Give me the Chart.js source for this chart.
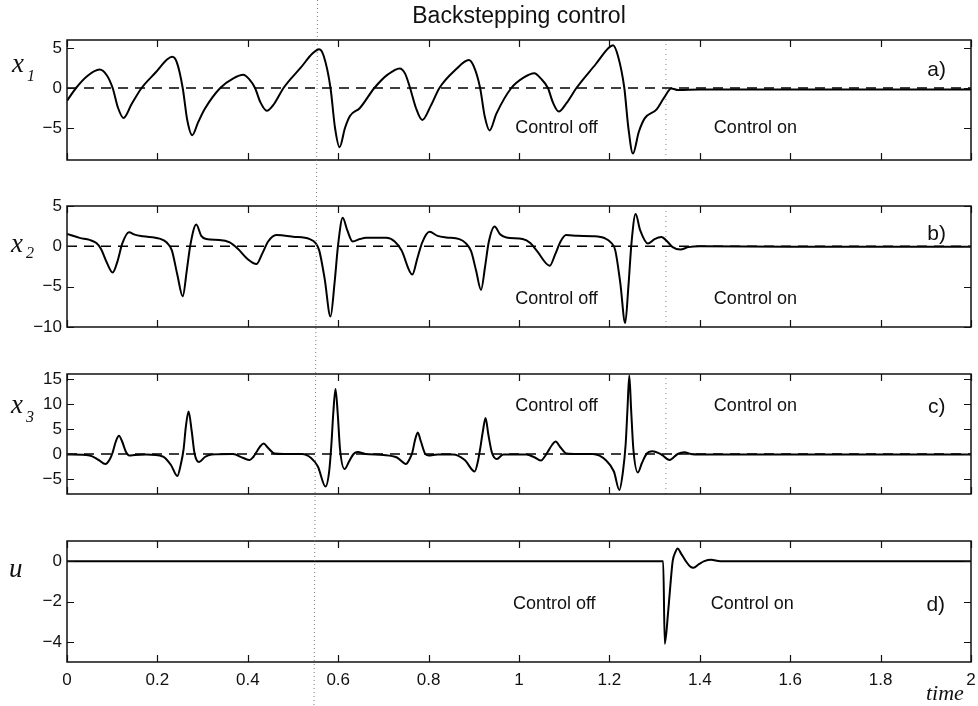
<!DOCTYPE html>
<html>
<head>
<meta charset="utf-8">
<title>Backstepping control</title>
<script src="https://cdn.jsdelivr.net/npm/chart.js@4.4.1/dist/chart.umd.min.js"></script>
<style>
  html, body { margin: 0; padding: 0; background: #fff; }
  #wrap { position: relative; width: 978px; height: 706px; background: #fff; }
  #wrap canvas { position: absolute; left: 0; top: 0; }
</style>
</head>
<body>
<div id="wrap">
  <canvas id="panel-a" width="978" height="706"></canvas>
  <canvas id="panel-b" width="978" height="706"></canvas>
  <canvas id="panel-c" width="978" height="706"></canvas>
  <canvas id="panel-d" width="978" height="706"></canvas>
</div>
<script>
// time axis
const xTicks = [0, 0.2, 0.4, 0.6, 0.8, 1, 1.2, 1.4, 1.6, 1.8, 2];
const controlOnTime = 1.325;   // dotted line where the controller is switched on
const scanLineTime = 0.552;    // faint dotted line crossing the whole figure

// a) x1
const tA = [0, 0.02, 0.045, 0.072, 0.088, 0.101, 0.113, 0.125, 0.143, 0.165, 0.197, 0.222, 0.233, 0.243,
  0.256, 0.266, 0.277, 0.29, 0.305, 0.339, 0.368, 0.39, 0.403, 0.416, 0.428, 0.442, 0.458, 0.479,
  0.518, 0.543, 0.558, 0.568, 0.583, 0.593, 0.603, 0.615, 0.626, 0.648, 0.68, 0.71, 0.736, 0.748,
  0.759, 0.772, 0.786, 0.805, 0.824, 0.86, 0.889, 0.9, 0.914, 0.924, 0.935, 0.95, 0.983, 1.01,
  1.034, 1.048, 1.064, 1.075, 1.088, 1.105, 1.127, 1.17, 1.198, 1.208, 1.219, 1.233, 1.242, 1.252,
  1.265, 1.278, 1.304, 1.32, 1.337, 1.352, 1.4, 1.6, 1.8, 2];
const x1 = [-1.6, 0, 1.5, 2.3, 1.6, 0, -2.5, -3.75, -2.0, 0, 2.0, 3.6, 3.9, 3.2,
  0, -4.0, -5.9, -4.3, -2.6, 0, 1.2, 1.65, 1.1, 0, -1.8, -2.85, -2.0, 0,
  2.6, 4.3, 4.85, 4.0, 0, -5.0, -7.4, -5.0, -3.5, -2.5, 0, 1.7, 2.45, 1.8,
  0, -2.5, -4.0, -2.2, 0, 2.3, 3.5, 2.7, 0, -3.5, -5.3, -3.2, 0, 1.3,
  1.85, 1.2, 0, -1.8, -2.95, -1.9, 0, 3.0, 5.0, 5.35, 4.0, 0, -5.0, -8.2,
  -5.5, -3.8, -2.7, -1.3, -0.05, -0.25, -0.2, -0.2, -0.2, -0.2];
const yTicksA = [-5, 0, 5];

// b) x2
const tB = [0, 0.028, 0.05, 0.065, 0.075, 0.088, 0.101, 0.112, 0.122, 0.137, 0.15, 0.168, 0.205, 0.22,
  0.232, 0.244, 0.256, 0.265, 0.273, 0.286, 0.297, 0.308, 0.337, 0.36, 0.378, 0.4, 0.419, 0.432,
  0.445, 0.463, 0.5, 0.537, 0.55, 0.558, 0.57, 0.583, 0.592, 0.6, 0.61, 0.62, 0.632, 0.648,
  0.662, 0.706, 0.725, 0.74, 0.764, 0.775, 0.786, 0.802, 0.82, 0.839, 0.868, 0.882, 0.894, 0.905,
  0.916, 0.925, 0.933, 0.946, 0.958, 0.972, 1.008, 1.025, 1.04, 1.068, 1.08, 1.092, 1.104, 1.13,
  1.163, 1.19, 1.203, 1.213, 1.224, 1.235, 1.242, 1.249, 1.258, 1.268, 1.285, 1.3, 1.315, 1.328,
  1.34, 1.357, 1.375, 1.4, 1.6, 1.8, 2];
const x2 = [1.55, 1.05, 0.8, 0.4, -0.3, -2.0, -3.25, -1.8, 0.3, 1.75, 1.45, 1.25, 0.95, 0.5,
  -0.5, -3.5, -6.2, -3.0, 0.2, 2.7, 1.3, 0.9, 0.8, 0.5, -0.3, -1.6, -2.2, -0.9,
  0.6, 1.4, 1.2, 0.9, 0.4, -0.5, -4.0, -8.7, -4.5, 0.3, 3.55, 2.0, 0.6, 0.9,
  1.05, 1.05, 0.6, -0.5, -3.5, -1.5, 0.5, 1.8, 1.3, 1.1, 0.9, 0.4, -0.6, -3.0,
  -5.4, -2.5, 0.5, 2.45, 1.5, 1.1, 0.9, 0.4, -0.6, -2.4, -1.0, 0.6, 1.4, 1.3,
  1.25, 1.0, 0.5, -0.5, -4.5, -9.5, -5.0, 0.5, 4.0, 2.0, 0.35, 0.9, 1.15, 0.6,
  -0.1, -0.4, -0.1, 0, -0.05, -0.05, -0.05];
const yTicksB = [-10, -5, 0, 5];

// c) x3
const tC = [0, 0.05, 0.07, 0.085, 0.095, 0.101, 0.108, 0.115, 0.122, 0.13, 0.138, 0.15, 0.175, 0.212,
  0.23, 0.244, 0.252, 0.258, 0.263, 0.269, 0.276, 0.282, 0.292, 0.305, 0.32, 0.367, 0.39, 0.404,
  0.412, 0.42, 0.428, 0.435, 0.445, 0.459, 0.48, 0.52, 0.54, 0.555, 0.572, 0.58, 0.585, 0.589,
  0.594, 0.599, 0.604, 0.614, 0.624, 0.634, 0.643, 0.66, 0.7, 0.73, 0.75, 0.758, 0.764, 0.77,
  0.776, 0.783, 0.792, 0.8, 0.82, 0.854, 0.88, 0.902, 0.909, 0.914, 0.92, 0.926, 0.932, 0.94,
  0.951, 0.965, 1.016, 1.035, 1.049, 1.057, 1.064, 1.073, 1.081, 1.092, 1.105, 1.13, 1.163, 1.193,
  1.21, 1.222, 1.23, 1.236, 1.24, 1.244, 1.248, 1.253, 1.263, 1.272, 1.282, 1.295, 1.315, 1.333,
  1.351, 1.366, 1.38, 1.4, 1.6, 1.8, 2];
const x3 = [-0.1, -0.3, -1.2, -2.0, -1.0, 0.3, 2.5, 3.65, 2.5, 0.5, -0.3, -0.2, -0.1, -0.5,
  -2.2, -4.4, -2.0, 1.0, 5.5, 8.5, 4.5, 0.2, -1.6, -0.6, -0.1, 0, -0.8, -1.2,
  -0.6, 0.5, 1.6, 2.1, 1.2, 0.1, 0, 0, -0.8, -2.5, -6.5, -3.5, 2.0, 8.0,
  13.0, 8.0, 1.0, -3.0, -1.5, 0, 0.4, 0, -0.2, -0.7, -2.0, -1.0, 0.3, 2.8,
  4.3, 2.5, 0.1, -0.3, -0.1, -0.1, -1.2, -3.5, -1.5, 1.0, 4.5, 7.2, 4.0, 0.3,
  -1.0, -0.1, -0.1, -0.7, -1.3, -0.5, 0.5, 1.8, 2.5, 1.3, 0.1, 0, 0, -1.3,
  -3.5, -7.2, -3.5, 2.0, 9.0, 15.7, 9.0, 1.0, -3.7, -1.8, 0, 0.55, -0.1, -1.2,
  0, 0.35, 0, -0.1, -0.1, -0.1, -0.1];
const yTicksC = [-5, 0, 5, 10, 15];

// d) u
const tU = [0, 0.5, 1.0, 1.319, 1.3225, 1.33, 1.336, 1.34, 1.346, 1.351, 1.358, 1.369, 1.378, 1.386,
  1.398, 1.41, 1.425, 1.445, 1.6, 1.8, 2];
const u = [0, 0, 0, 0, -4.1, -2.5, -0.9, 0, 0.45, 0.63, 0.4, 0, -0.25, -0.33,
  -0.15, 0, 0.07, 0, 0, 0, 0];
const yTicksD = [-4, -2, 0];

const sansFont = 'Arial, "Liberation Sans", Helvetica, sans-serif';
const serifFont = '"Times New Roman", "Liberation Serif", serif';
const ink = "#111";

// frame, inward ticks and text notes drawn on top of each panel
const decorPlugin = {
  id: "decor",
  afterDraw(chart, args, opts) {
    const ctx = chart.ctx;
    const { left, right, top, bottom } = chart.chartArea;
    const xs = chart.scales.x;
    const ys = chart.scales.y;
    ctx.save();

    ctx.strokeStyle = ink;
    ctx.lineWidth = 1.5;
    ctx.strokeRect(left, top, right - left, bottom - top);

    ctx.lineWidth = 1.2;
    ctx.beginPath();
    xTicks.forEach(v => {
      const px = Math.round(xs.getPixelForValue(v)) + 0.5;
      ctx.moveTo(px, top); ctx.lineTo(px, top + 7);
      ctx.moveTo(px, bottom); ctx.lineTo(px, bottom - 7);
    });
    opts.yTicks.forEach(v => {
      const py = Math.round(ys.getPixelForValue(v)) + 0.5;
      ctx.moveTo(left, py); ctx.lineTo(left + 7, py);
      ctx.moveTo(right, py); ctx.lineTo(right - 7, py);
    });
    ctx.stroke();

    // notes placed in data coordinates
    ctx.fillStyle = ink;
    ctx.textAlign = "center";
    ctx.textBaseline = "middle";
    (opts.notes || []).forEach(n => {
      ctx.font = n.size + "px " + sansFont;
      ctx.fillText(n.text, xs.getPixelForValue(n.x), ys.getPixelForValue(n.y));
    });

    // y label like x with subscript
    const yl = opts.ylabel;
    ctx.textAlign = "left";
    ctx.textBaseline = "alphabetic";
    ctx.font = "italic 27px " + serifFont;
    ctx.fillText(yl.main, yl.x, yl.y);
    if (yl.sub) {
      ctx.font = "italic 16px " + serifFont;
      ctx.fillText(yl.sub, yl.x + 15, yl.y + yl.subDy);
    }

    if (opts.bottomPanel) {
      ctx.font = "italic 22px " + serifFont;
      ctx.fillText("time", 926, 700);

      // faint scan line across the whole figure
      const sx = xs.getPixelForValue(scanLineTime);
      ctx.strokeStyle = "#777";
      ctx.lineWidth = 1;
      ctx.setLineDash([1, 3]);
      ctx.beginPath();
      ctx.moveTo(sx + 1, 0);
      ctx.lineTo(sx - 2.5, 706);
      ctx.stroke();
    }
    ctx.restore();
  }
};

function makePanel(id, t, vals, p) {
  const datasets = [{
    data: t.map((tt, i) => ({ x: tt, y: vals[i] })),
    borderColor: "#000",
    borderWidth: 2,
    pointRadius: 0,
    cubicInterpolationMode: "monotone"
  }];
  if (p.zeroLine) {
    datasets.push({
      data: [{ x: 0, y: 0 }, { x: 2, y: 0 }],
      borderColor: "#000", borderWidth: 1.5, borderDash: [10, 7], pointRadius: 0
    });
  }
  if (p.switchLine) {
    datasets.push({
      data: [{ x: controlOnTime, y: p.yMin }, { x: controlOnTime, y: p.yMax }],
      borderColor: "#888", borderWidth: 1, borderDash: [1, 4], pointRadius: 0
    });
  }

  return new Chart(document.getElementById(id), {
    type: "line",
    data: { datasets },
    plugins: [decorPlugin],
    options: {
      responsive: false,
      animation: false,
      devicePixelRatio: 1,
      layout: { padding: { left: 0, right: 7, top: p.top, bottom: p.bottom } },
      scales: {
        x: {
          type: "linear", min: 0, max: 2,
          display: !!p.showX,
          grid: { display: false, drawTicks: false },
          border: { display: false },
          afterBuildTicks: s => { s.ticks = xTicks.map(v => ({ value: v })); },
          afterFit: s => {
            if (!p.showX) return;
            s.height = 30;
            s.paddingLeft = 0;
            s.paddingRight = 0;
          },
          ticks: {
            color: ink, padding: 8, maxRotation: 0, autoSkip: false,
            font: { family: sansFont, size: 17 },
            callback: v => String(Math.round(v * 10) / 10)
          }
        },
        y: {
          type: "linear", min: p.yMin, max: p.yMax,
          grid: { display: false, drawTicks: false },
          border: { display: false },
          afterBuildTicks: s => { s.ticks = p.yTicks.map(v => ({ value: v })); },
          afterFit: s => { s.width = 67; },
          ticks: {
            color: ink, padding: 5, autoSkip: false,
            font: { family: sansFont, size: 17 },
            callback: v => String(v).replace("-", "\u2212")
          }
        }
      },
      plugins: {
        legend: { display: false },
        tooltip: { enabled: false },
        title: p.title ? {
          display: true, text: p.title, color: ink, fullSize: false,
          font: { family: sansFont, size: 23, weight: "normal" },
          padding: { top: 3, bottom: 9.4 }
        } : { display: false },
        decor: {
          yTicks: p.yTicks, notes: p.notes, ylabel: p.ylabel, bottomPanel: p.showX
        }
      }
    }
  });
}

makePanel("panel-a", tA, x1, {
  title: "Backstepping control", top: 0, bottom: 706 - 160,
  yMin: -9, yMax: 6, yTicks: yTicksA, zeroLine: true, switchLine: true,
  ylabel: { main: "x", sub: "1", x: 12, y: 72, subDy: 9 },
  notes: [
    { text: "Control off", x: 1.083, y: -5.0, size: 18 },
    { text: "Control on", x: 1.523, y: -5.0, size: 18 },
    { text: "a)", x: 1.924, y: 2.2, size: 21 }
  ]
});

makePanel("panel-b", tB, x2, {
  top: 206, bottom: 706 - 327,
  yMin: -10, yMax: 5, yTicks: yTicksB, zeroLine: true, switchLine: true,
  ylabel: { main: "x", sub: "2", x: 11, y: 252, subDy: 6 },
  notes: [
    { text: "Control off", x: 1.083, y: -6.5, size: 18 },
    { text: "Control on", x: 1.523, y: -6.5, size: 18 },
    { text: "b)", x: 1.924, y: 1.5, size: 21 }
  ]
});

makePanel("panel-c", tC, x3, {
  top: 374, bottom: 706 - 494,
  yMin: -8, yMax: 16, yTicks: yTicksC, zeroLine: true, switchLine: true,
  ylabel: { main: "x", sub: "3", x: 11, y: 413, subDy: 9 },
  notes: [
    { text: "Control off", x: 1.083, y: 9.6, size: 18 },
    { text: "Control on", x: 1.523, y: 9.6, size: 18 },
    { text: "c)", x: 1.924, y: 9.3, size: 21 }
  ]
});

makePanel("panel-d", tU, u, {
  top: 541, bottom: 706 - 662 - 30, showX: true,
  yMin: -5, yMax: 1, yTicks: yTicksD,
  ylabel: { main: "u", x: 9, y: 577 },
  notes: [
    { text: "Control off", x: 1.078, y: -2.15, size: 18 },
    { text: "Control on", x: 1.516, y: -2.15, size: 18 },
    { text: "d)", x: 1.922, y: -2.2, size: 21 }
  ]
});
</script>
</body>
</html>
